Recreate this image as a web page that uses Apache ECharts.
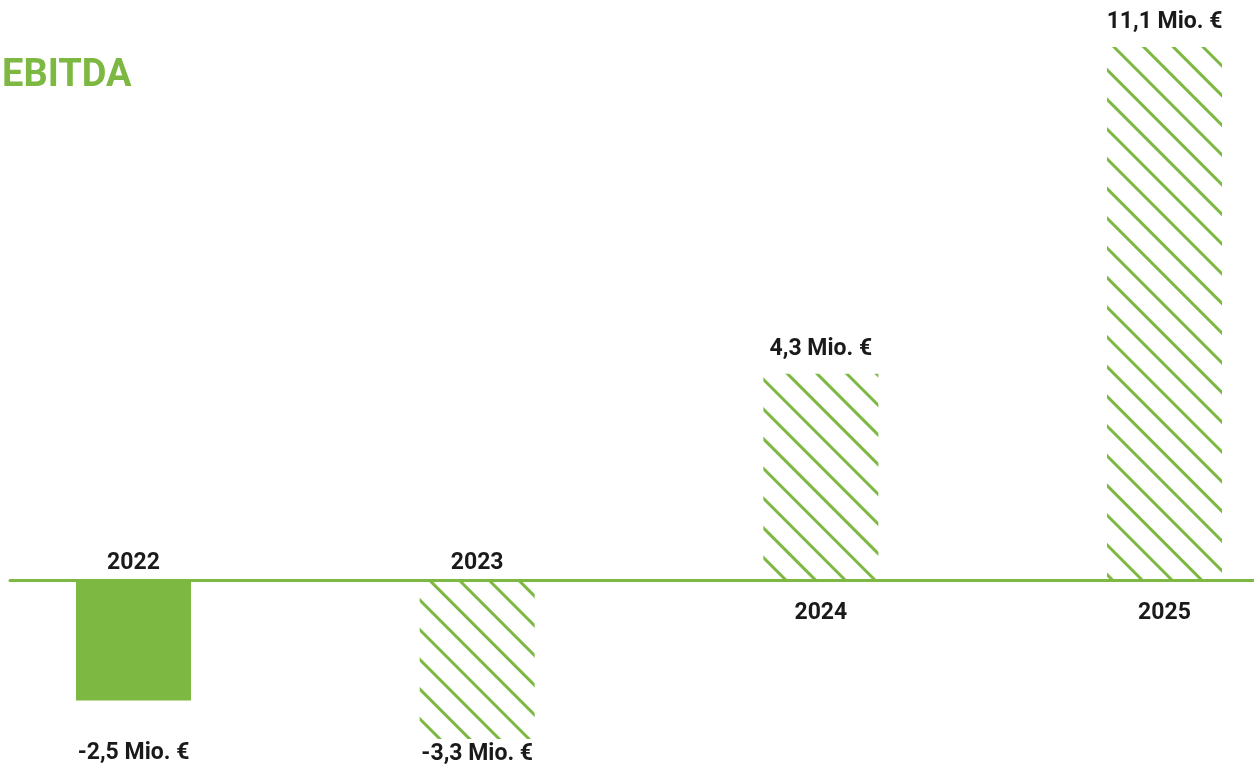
<!DOCTYPE html>
<html>
<head>
<meta charset="utf-8">
<script src="https://cdn.jsdelivr.net/npm/echarts@6/dist/echarts.min.js"></script>
<style>html,body{margin:0;padding:0;background:#fff;}#c{width:1254px;height:765px;}</style>
</head>
<body>
<div id="c"></div>
<script>
var years = ['2022', '2023', '2024', '2025'];
var ebitda = [-2.5, -3.3, 4.3, 11.1];
var valueLabels = ['-2,5 Mio. €', '-3,3 Mio. €', '4,3 Mio. €', '11,1 Mio. €'];
var hatched = [false, true, true, true];

var GREEN = '#7db843';
var TEXT = '#1a1a1a';
var chart = echarts.init(document.getElementById('c'));

var barData = ebitda.map(function (v, i) {
  var item = { value: [i, v] };
  if (hatched[i]) {
    item.itemStyle = {
      color: 'rgba(255,255,255,0)',
      decal: {
        symbol: 'rect',
        color: GREEN,
        backgroundColor: 'rgba(255,255,255,0)',
        dashArrayX: [1, 0],
        dashArrayY: [3, 18],
        symbolSize: 1,
        rotation: Math.PI / 4
      }
    };
  }
  item.label = v < 0
    ? { position: 'bottom', distance: i === 0 ? 41 : 4 }
    : { position: 'top', distance: 13 };
  return item;
});

var yearData = years.map(function (y, i) {
  return {
    value: [i, 0],
    label: ebitda[i] < 0 ? { position: 'top', distance: 6 } : { position: 'bottom', distance: 21 }
  };
});

chart.setOption({
  animation: false,
  title: {
    text: 'EBITDA', left: -3, top: 52,
    textStyle: { color: GREEN, fontFamily: 'Roboto', fontWeight: 'bold', fontSize: 38 }
  },
  grid: { left: 10, right: 0, top: 47, bottom: 26 },
  xAxis: {
    type: 'value', min: -0.3594, max: 3.2604,
    axisLine: { show: true, onZero: true, lineStyle: { color: GREEN, width: 3 } },
    axisTick: { show: false }, axisLabel: { show: false }, splitLine: { show: false }
  },
  yAxis: {
    type: 'value', min: -3.3, max: 11.1,
    axisLine: { show: false }, axisTick: { show: false }, axisLabel: { show: false }, splitLine: { show: false }
  },
  series: [
    {
      type: 'bar', barWidth: 115, data: barData,
      itemStyle: { color: GREEN },
      label: {
        show: true, color: TEXT, fontFamily: 'Roboto', fontWeight: 'bold', fontSize: 23,
        formatter: function (p) { return valueLabels[p.dataIndex]; }
      }
    },
    {
      type: 'scatter', symbolSize: 0, data: yearData, z: 5,
      itemStyle: { opacity: 1 },
      label: {
        show: true, color: TEXT, opacity: 1, fontFamily: 'Roboto', fontWeight: 'bold', fontSize: 23,
        formatter: function (p) { return years[p.dataIndex]; }
      }
    }
  ]
});
</script>
</body>
</html>
